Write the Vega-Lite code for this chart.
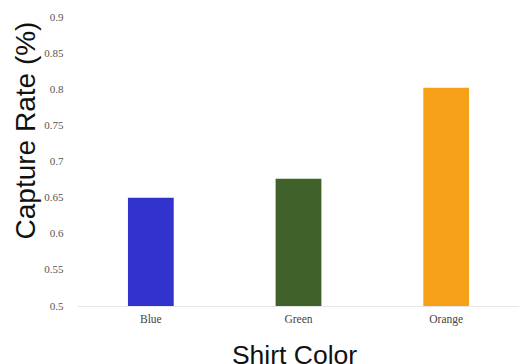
{
  "$schema": "https://vega.github.io/schema/vega-lite/v6.json",
  "autosize": "none",
  "width": 443,
  "height": 289,
  "padding": {"left": 77, "top": 17, "right": 0, "bottom": 58},
  "background": "white",
  "config": {"view": {"stroke": null}},
  "data": {"values": [
    {"color": "Blue", "rate": 0.65},
    {"color": "Green", "rate": 0.676},
    {"color": "Orange", "rate": 0.802}
  ]},
  "mark": {"type": "bar", "clip": true},
  "encoding": {
    "x": {
      "field": "color", "type": "nominal", "sort": null,
      "scale": {"paddingInner": 0.69, "paddingOuter": 0.345},
      "axis": {
        "title": "Shirt Color", "labelAngle": 0, "labelFont": "Liberation Serif", "labelFontSize": 11.5,
        "labelColor": "#444444", "labelPadding": 7, "ticks": false, "domainColor": "#e6e6e6",
        "titleFont": "Liberation Sans", "titleFontSize": 26.5, "titleFontWeight": "normal",
        "titleColor": "#111111", "titleX": 217, "titleY": 57, "titleBaseline": "alphabetic"
      }
    },
    "y": {
      "field": "rate", "type": "quantitative",
      "scale": {"domain": [0.5, 0.9], "zero": false, "clamp": true},
      "axis": {
        "title": "Capture Rate (%)", "values": [0.5, 0.55, 0.6, 0.65, 0.7, 0.75, 0.8, 0.85, 0.9],
        "format": ".2~f",
        "grid": false, "domain": false, "ticks": false, "labelPadding": 14,
        "labelFont": "Liberation Serif", "labelFontSize": 11, "labelColor": "#555555",
        "titleFont": "Liberation Sans", "titleFontSize": 28, "titleFontWeight": "normal",
        "titleColor": "#111111", "titleX": -51, "titleY": 113, "titleAngle": -90, "titleAlign": "center", "titleBaseline": "middle"
      }
    },
    "color": {
      "field": "color", "type": "nominal", "legend": null,
      "scale": {"domain": ["Blue", "Green", "Orange"], "range": ["#3232cc", "#41612a", "#f6a118"]}
    }
  }
}
